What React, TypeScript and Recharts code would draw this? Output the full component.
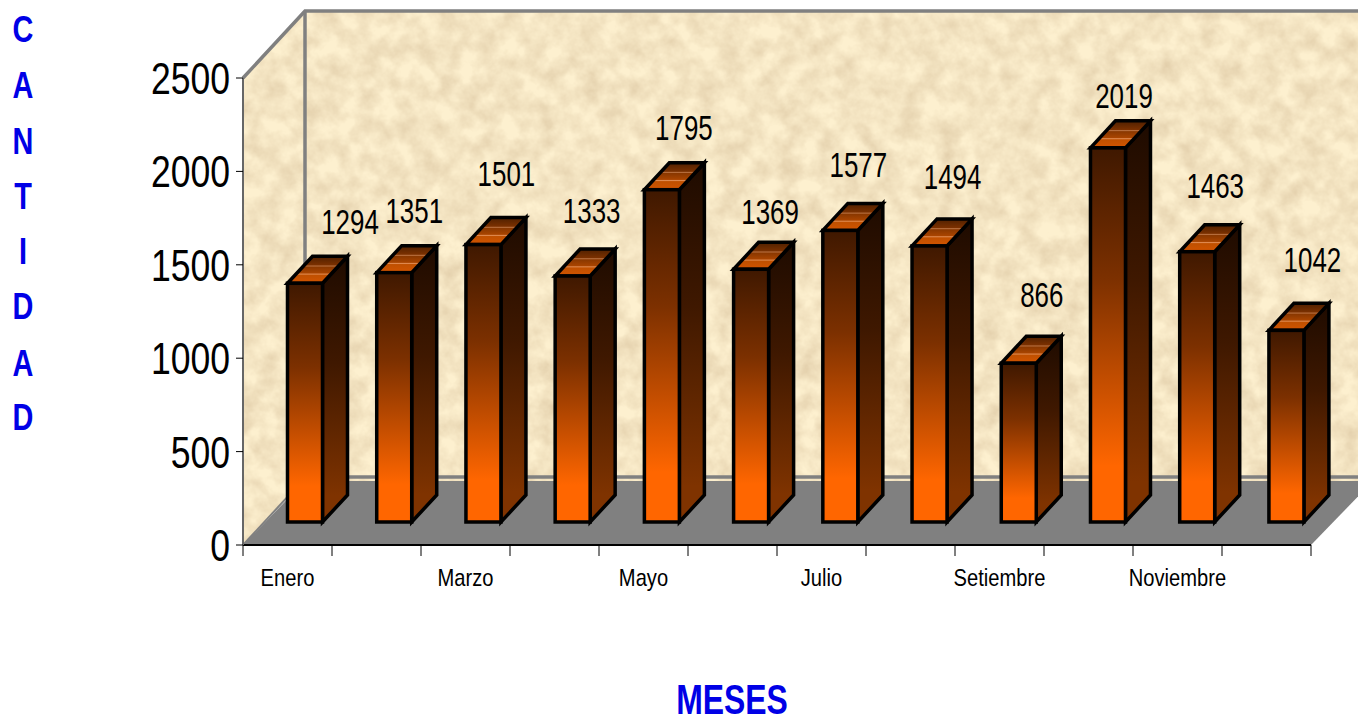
import { BarChart, Bar, XAxis, YAxis, LabelList, Customized } from 'recharts'

const months = ['Enero', 'Febrero', 'Marzo', 'Abril', 'Mayo', 'Junio', 'Julio', 'Agosto', 'Setiembre', 'Octubre', 'Noviembre', 'Diciembre']
const cantidad = [1294, 1351, 1501, 1333, 1795, 1369, 1577, 1494, 866, 2019, 1463, 1042]
const yTicks = [0, 500, 1000, 1500, 2000, 2500]

// the data labels were dragged by hand in the original, so each has its own nudge
const labelDx = [45, 20, 23, 19, 22, 19, 18, 23, 23, 16, 18, 26]
const labelDy = [-62, -63, -72, -66, -63, -58, -66, -70, -69, -53, -67, -71]

// no narrow face is installed, so Liberation Sans gets squeezed horizontally
const FONT = '"Liberation Sans", Arial, sans-serif'
const BLUE = '#0000e6'

// plot box and oblique depth of the fake 3D
const L = 243
const T = 78
const R = 1311
const B = 545
const WALL_DX = 62
const WALL_DY = 67
const BAR_DX = 17.5
const BAR_DRIFT = 0.22
const BAR_DY = 23
const TOP_INSET = 3
const DEPTH_X = 25
const DEPTH_Y = 27

const rows = months.map((m, i) => ({ mes: m, cantidad: cantidad[i] }))

function Squeezed({ x, y, sx, size, anchor = 'middle', fill = '#000', weight = 'normal', children }: any) {
  return (
    <text
      transform={`translate(${x} ${y}) scale(${sx} 1)`}
      textAnchor={anchor}
      fontFamily={FONT}
      fontSize={size}
      fontWeight={weight}
      fill={fill}
    >
      {children}
    </text>
  )
}

function Walls() {
  return (
    <g>
      <defs>
        <linearGradient id="front" x1="0" y1="0" x2="0" y2="1">
          <stop offset="0" stopColor="#3f1800" />
          <stop offset="0.35" stopColor="#7c3000" />
          <stop offset="0.85" stopColor="#ff6600" />
          <stop offset="1" stopColor="#ff6600" />
        </linearGradient>
        <linearGradient id="side" x1="0" y1="0" x2="0" y2="1">
          <stop offset="0" stopColor="#1e0b00" />
          <stop offset="0.4" stopColor="#3f1800" />
          <stop offset="0.9" stopColor="#7f3300" />
          <stop offset="1" stopColor="#7f3300" />
        </linearGradient>
        <linearGradient id="top" x1="0" y1="1" x2="0" y2="0">
          <stop offset="0" stopColor="#d25400" />
          <stop offset="0.3" stopColor="#c05000" />
          <stop offset="0.34" stopColor="#e08a50" />
          <stop offset="0.38" stopColor="#a84400" />
          <stop offset="0.6" stopColor="#8a3800" />
          <stop offset="0.64" stopColor="#b87040" />
          <stop offset="0.68" stopColor="#7a3000" />
          <stop offset="1" stopColor="#4f2000" />
        </linearGradient>
        <filter id="parchment" x="0" y="0" width="100%" height="100%" colorInterpolationFilters="sRGB">
          <feTurbulence type="fractalNoise" baseFrequency="0.05" numOctaves="4" seed="7" result="n" />
          <feColorMatrix in="n" type="matrix" values="0 0 0 0 0.80  0 0 0 0 0.70  0 0 0 0 0.55  0.8 0 0 0 -0.22" result="blot" />
          <feComposite in="blot" in2="SourceGraphic" operator="atop" />
        </filter>
      </defs>
      <polygon
        points={`${L},${T} ${L + WALL_DX},${T - WALL_DY} ${L + WALL_DX},${B - WALL_DY} ${L},${B}`}
        fill="#fdf0cf"
        filter="url(#parchment)"
      />
      <rect x={L + WALL_DX} y={T - WALL_DY} width={R - L} height={B - T + 3} fill="#fdf0cf" filter="url(#parchment)" />
      <polygon points={`${L},${B} ${L + WALL_DX},${B - WALL_DY + 3} ${R + WALL_DX},${B - WALL_DY + 3} ${R},${B}`} fill="#808080" />
      <g stroke="#808080" strokeWidth={3.5} fill="none">
        <polyline points={`${L},${T} ${L + WALL_DX},${T - WALL_DY} ${R + WALL_DX},${T - WALL_DY}`} />
        <line x1={L + WALL_DX} y1={T - WALL_DY} x2={L + WALL_DX} y2={B - WALL_DY} />
        <line x1={L + WALL_DX} y1={B - WALL_DY - 1} x2={R + WALL_DX} y2={B - WALL_DY - 1} />
        <line x1={L} y1={B} x2={L + WALL_DX} y2={B - WALL_DY} strokeWidth={2} />
      </g>
      {'CANTIDAD'.split('').map((c, i) => (
        <Squeezed key={i} x={23} y={[42, 98, 154, 209, 264, 319, 376, 430][i]} sx={0.78} size={37} weight="bold" fill={BLUE}>
          {c}
        </Squeezed>
      ))}
      <Squeezed x={732} y={714} sx={0.76} size={42} weight="bold" fill={BLUE}>MESES</Squeezed>
    </g>
  )
}

function Box3D(props: any) {
  const { x, y, width, height, index } = props
  const fx = x + BAR_DX + index * BAR_DRIFT
  const fy = y - BAR_DY + TOP_INSET
  const fr = fx + width
  const fb = fy + height - TOP_INSET
  return (
    <g stroke="#000" strokeWidth={3.5} strokeLinejoin="miter">
      <polygon points={`${fr},${fy} ${fr + DEPTH_X},${fy - DEPTH_Y} ${fr + DEPTH_X},${fb - DEPTH_Y} ${fr},${fb}`} fill="url(#side)" />
      <polygon points={`${fx},${fy} ${fx + DEPTH_X},${fy - DEPTH_Y} ${fr + DEPTH_X},${fy - DEPTH_Y} ${fr},${fy}`} fill="url(#top)" />
      <rect x={fx} y={fy} width={width} height={fb - fy} fill="url(#front)" />
    </g>
  )
}

function ValueLabel(props: any) {
  const { x, y, width, index, value } = props
  return (
    <Squeezed
      x={x + width / 2 + BAR_DX + index * BAR_DRIFT + labelDx[index]}
      y={y - BAR_DY + TOP_INSET + labelDy[index] + 13}
      sx={0.72}
      size={36}
    >
      {value}
    </Squeezed>
  )
}

function MonthTick(props: any) {
  const { x, y, index, payload } = props
  const half = (R - L) / months.length / 2
  return (
    <g>
      <line x1={x - half} y1={B} x2={x - half} y2={B + 11} stroke="#000" strokeWidth={1} />
      {index === months.length - 1 && <line x1={x + half} y1={B} x2={x + half} y2={B + 11} stroke="#000" strokeWidth={1} />}
      {index % 2 === 0 && (
        <Squeezed x={x} y={y + 33} sx={0.84} size={24}>
          {payload.value}
        </Squeezed>
      )}
    </g>
  )
}

function CantidadTick(props: any) {
  const { x, y, payload } = props
  return (
    <Squeezed x={x} y={y + 16} sx={0.79} size={45} anchor="end">
      {payload.value}
    </Squeezed>
  )
}

export default function App() {
  return (
    <div style={{ position: 'absolute', left: 0, top: 0, width: 1358, height: 718, overflow: 'hidden', background: '#fff' }}>
      <BarChart
        width={1358}
        height={718}
        data={rows}
        margin={{ top: T, left: L - 100, right: 1358 - R, bottom: 718 - B - 60 }}
        barSize={35}
      >
        <Customized component={Walls} />
        <XAxis
          dataKey="mes"
          height={60}
          interval={0}
          tickLine={false}
          axisLine={{ stroke: '#000', strokeWidth: 2 }}
          tick={<MonthTick />}
        />
        <YAxis
          width={100}
          domain={[0, 2500]}
          ticks={yTicks}
          axisLine={{ stroke: '#666', strokeWidth: 2 }}
          tickLine={{ stroke: '#000' }}
          tickSize={7}
          tickMargin={6}
          tick={<CantidadTick />}
        />
        <Bar dataKey="cantidad" shape={<Box3D />} isAnimationActive={false}>
          <LabelList dataKey="cantidad" content={<ValueLabel />} />
        </Bar>
      </BarChart>
    </div>
  )
}
